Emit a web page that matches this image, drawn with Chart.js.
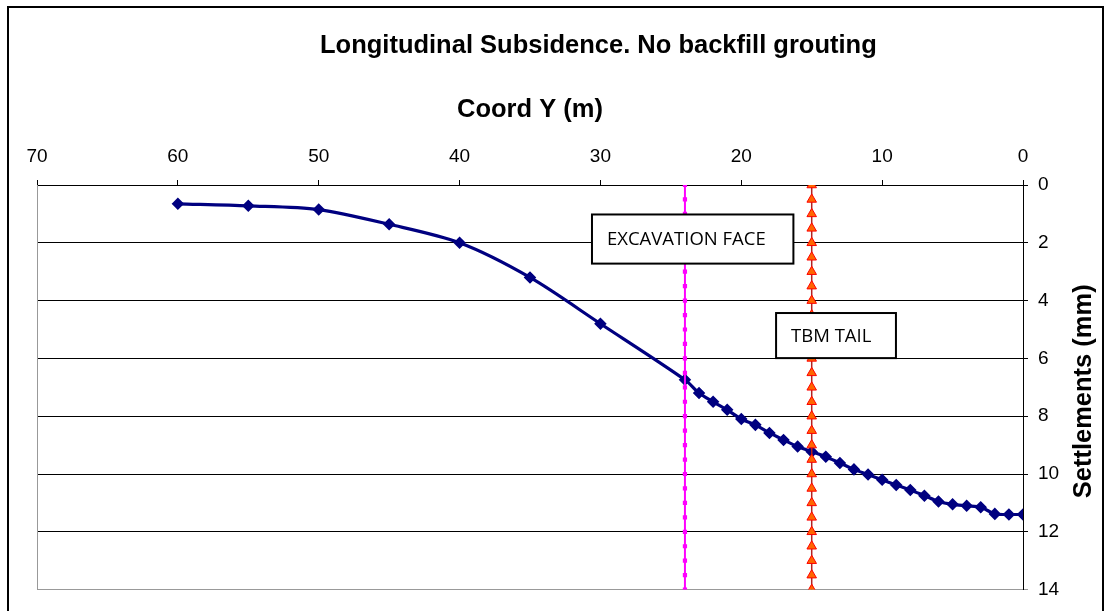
<!DOCTYPE html>
<html><head><meta charset="utf-8">
<script src="https://cdn.jsdelivr.net/npm/chart.js@4/dist/chart.umd.min.js"></script>
<style>html,body{margin:0;padding:0;background:#fff}#wrap{width:1110px;height:611px;position:relative}</style>
</head><body><div id="wrap"><canvas id="c"></canvas></div>
<script>
// ---- data ----
const chartTitle = 'Longitudinal Subsidence. No backfill grouting';
const xAxisTitle = 'Coord Y (m)';
const yAxisTitle = 'Settlements (mm)';
const coordY = [60,55,50,45,40,35,30,24,23,22,21,20,19,18,17,16,15,14,13,12,11,10,9,8,7,6,5,4,3,2,1,0];
const settlement = [0.65,0.72,0.85,1.36,2.0,3.2,4.8,6.74,7.2,7.5,7.78,8.1,8.3,8.58,8.82,9.05,9.23,9.4,9.62,9.84,10.02,10.2,10.38,10.55,10.75,10.95,11.05,11.1,11.15,11.38,11.4,11.4];
const faceCoord = 24;
const tailCoord = 15;
const markerDepths = [0,0.5,1,1.5,2,2.5,3,3.5,4,4.5,5,5.5,6,6.5,7,7.5,8,8.5,9,9.5,10,10.5,11,11.5,12,12.5,13,13.5,14];
const noteLabels = ['EXCAVATION FACE','TBM TAIL'];
// box corners in data units (coord from, coord to, settlement from, settlement to)
const noteBoxes = [[30.6,16.3,1.02,2.72],[17.53,9.02,4.43,5.99]];

// ---- layout constants ----
const FONT = "'Liberation Sans', Arial, sans-serif";
const TITLE_SIZE = 25.5, AXIS_TITLE_SIZE = 25.5, TICK_SIZE = 19;
const PLOT_TOP = 185;

const pts = coordY.map((x,i)=>({x, y: settlement[i]}));
const facePts = markerDepths.map(d=>({x: faceCoord, y: d}));
const tailPts = markerDepths.map(d=>({x: tailCoord, y: d}));

const decor = {
  id:'decor',
  beforeDraw(chart){
    const ctx = chart.ctx; ctx.save(); ctx.fillStyle='#fff'; ctx.fillRect(0,0,chart.width,chart.height); ctx.restore();
  },
  beforeDatasetsDraw(chart){
    const {ctx, chartArea:a} = chart;
    ctx.save(); ctx.strokeStyle='#999'; ctx.lineWidth=1;
    ctx.beginPath(); ctx.moveTo(a.left+0.5, a.top); ctx.lineTo(a.left+0.5, a.bottom); ctx.stroke();
    ctx.restore();
  },
  afterDatasetsDraw(chart){
    const {ctx, scales:{x, y}} = chart;
    ctx.save();
    noteBoxes.forEach((b,i)=>{
      const x1 = x.getPixelForValue(b[0]), x2 = x.getPixelForValue(b[1]);
      const y1 = y.getPixelForValue(b[2]), y2 = y.getPixelForValue(b[3]);
      ctx.fillStyle='#fff'; ctx.fillRect(x1,y1,x2-x1,y2-y1);
      ctx.strokeStyle='#000'; ctx.lineWidth=2; ctx.strokeRect(x1,y1,x2-x1,y2-y1);
      ctx.fillStyle='#000'; ctx.font="18.5px 'Open Sans', sans-serif";
      ctx.textAlign='left'; ctx.textBaseline='middle';
      ctx.fillText(noteLabels[i], x1+15, (y1+y2)/2+1);
    });
    ctx.restore();
  },
  afterDraw(chart){
    const {ctx, chartArea:a} = chart;
    ctx.save();
    ctx.strokeStyle='#000'; ctx.lineWidth=2;
    ctx.strokeRect(8, 7, 1095, 620);
    ctx.fillStyle='#000';
    ctx.font = 'bold '+TITLE_SIZE+'px '+FONT;
    ctx.textAlign='left'; ctx.textBaseline='middle';
    ctx.fillText(chartTitle, 320, 46);
    ctx.translate(1084, (a.top+a.bottom)/2 + 4);
    ctx.rotate(-Math.PI/2);
    ctx.font = 'bold '+AXIS_TITLE_SIZE+'px '+FONT;
    ctx.textAlign='center';
    ctx.fillText(yAxisTitle, 0, 0);
    ctx.restore();
  }
};

new Chart(document.getElementById('c'), {
  type:'scatter',
  data:{ datasets:[
    { label:'Settlement', data: pts, showLine:true, borderColor:'#000080', backgroundColor:'#000080',
      borderWidth:3.2, pointStyle:'rectRot', pointRadius:4, tension:0.3, order:2 },
    { label:'Excavation face', data: facePts, showLine:true, borderColor:'#FF00FF', backgroundColor:'#FF00FF',
      borderWidth:2, pointStyle:'rect', pointRadius:3, pointBorderWidth:0, order:1 },
    { label:'TBM tail', data: tailPts, showLine:true, borderColor:'#B22222', backgroundColor:'#FF6600',
      borderWidth:1.5, pointStyle:'triangle', pointRadius:5.5, pointBorderColor:'#FF0000', pointBorderWidth:1, order:0 }
  ]},
  options:{
    responsive:true, maintainAspectRatio:false, animation:false,
    layout:{ padding:{ left:37, right:0, top:0, bottom:15 } },
    plugins:{ legend:{display:false}, tooltip:{enabled:false}, title:{display:false} },
    scales:{
      x:{ type:'linear', position:'top', reverse:true, min:0, max:70,
        afterFit(s){ s.height = PLOT_TOP; },
        ticks:{ stepSize:10, color:'#000', padding:11.5, font:{ family:FONT, size:TICK_SIZE } },
        grid:{ drawOnChartArea:false, drawTicks:true, tickLength:5, color:'#000' },
        border:{ color:'#000', width:1 },
        title:{ display:true, text:xAxisTitle, color:'#000', font:{ family:FONT, size:AXIS_TITLE_SIZE, weight:'bold' },
          padding:{ top: 110 - AXIS_TITLE_SIZE*0.6, bottom:0 } }
      },
      y:{ type:'linear', position:'right', reverse:true, min:0, max:14,
        afterFit(s){ s.width = 87; },
        ticks:{ stepSize:2, color:'#000', padding:10, font:{ family:FONT, size:TICK_SIZE } },
        grid:{ drawTicks:true, tickLength:5, color: c => (c.tick && c.tick.value === 14) ? '#999' : '#000' },
        border:{ color:'#000', width:1 }
      }
    }
  },
  plugins:[decor]
});
</script>
</body></html>
